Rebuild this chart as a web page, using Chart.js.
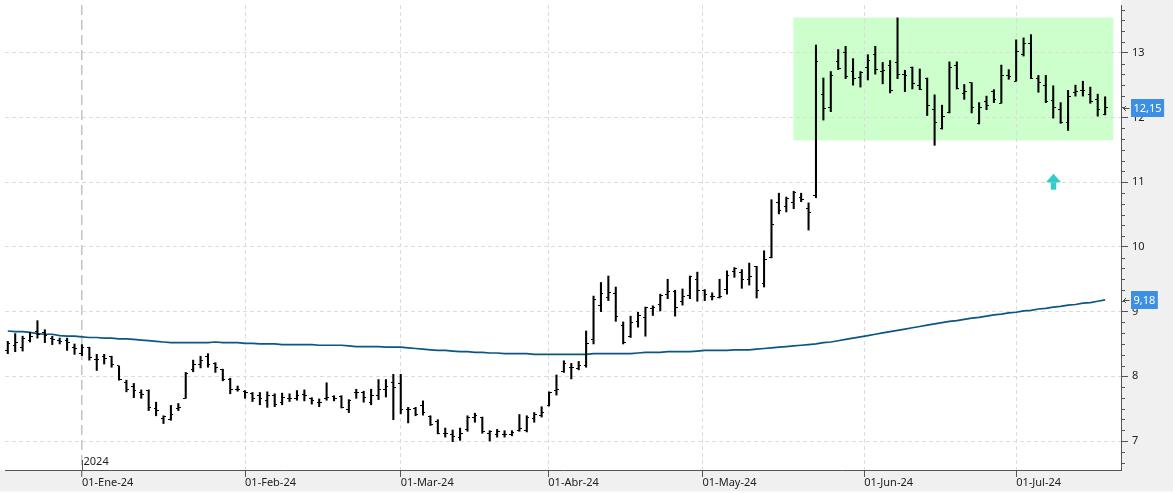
<!DOCTYPE html>
<html><head><meta charset="utf-8">
<script src="https://cdn.jsdelivr.net/npm/chart.js@4/dist/chart.umd.min.js"></script>
<style>html,body{margin:0;padding:0;background:#fff;overflow:hidden}canvas{display:block}</style>
</head><body>
<canvas id="c" width="1173" height="493"></canvas>
<script>
// ---- data (daily OHLC, trading-day index 0..148, 14-Dic-23 .. 17-Jul-24) ----
const opens = [8.40,8.48,8.45,8.55,8.70,8.68,8.58,8.55,8.55,8.45,
8.35,8.45,8.26,8.30,8.30,8.16,7.90,7.85,7.75,7.78,
7.50,7.35,7.33,7.50,7.66,8.10,8.18,8.30,8.20,8.10,
7.95,7.80,7.77,7.74,7.70,7.62,7.70,7.60,7.66,7.66,
7.72,7.65,7.60,7.66,7.69,7.69,7.48,7.75,7.75,7.60,
7.70,7.80,7.90,7.89,7.48,7.50,7.55,7.38,7.30,7.12,
7.10,7.05,7.18,7.37,7.36,7.12,7.10,7.10,7.10,7.17,
7.16,7.35,7.40,7.55,7.78,8.08,8.14,8.12,8.16,8.57,
9.09,9.22,9.28,8.79,8.61,8.85,8.91,9.05,9.11,9.26,
9.31,9.16,9.25,9.49,9.32,9.24,9.22,9.34,9.62,9.61,
9.49,9.69,9.44,9.84,10.68,10.62,10.68,10.76,10.60,10.80,
12.35,12.16,12.86,13.00,12.71,12.62,12.78,12.97,12.71,12.81,
12.85,12.67,12.77,12.49,12.60,12.13,11.83,12.07,12.80,12.37,
12.54,11.90,12.25,12.40,12.22,12.65,12.56,12.98,13.15,12.60,
12.49,12.27,12.13,11.92,12.39,12.41,12.36,12.28,12.04];
const highs = [8.54,8.66,8.62,8.68,8.86,8.72,8.62,8.59,8.59,8.50,
8.49,8.45,8.34,8.34,8.31,8.16,7.94,7.89,7.79,7.79,
7.60,7.39,7.55,7.58,8.06,8.25,8.31,8.35,8.21,8.11,
7.97,7.85,7.78,7.75,7.75,7.76,7.73,7.74,7.73,7.78,
7.79,7.67,7.65,7.90,7.70,7.70,7.64,7.80,7.77,7.80,
7.95,7.95,8.03,8.03,7.52,7.52,7.62,7.39,7.33,7.20,
7.17,7.20,7.39,7.43,7.37,7.16,7.18,7.16,7.16,7.41,
7.39,7.44,7.53,7.76,8.02,8.24,8.20,8.23,8.70,9.24,
9.45,9.55,9.38,8.84,8.93,8.99,9.07,9.09,9.27,9.50,
9.33,9.35,9.55,9.61,9.34,9.29,9.50,9.63,9.68,9.65,
9.75,9.70,9.94,10.73,10.83,10.77,10.86,10.83,10.68,13.12,
12.61,12.71,13.05,13.10,12.91,12.71,12.97,13.10,12.85,12.88,
13.54,12.73,12.78,12.75,12.61,12.35,12.19,12.86,12.86,12.51,
12.54,12.23,12.33,12.43,12.81,12.74,13.20,13.23,13.28,12.65,
12.65,12.49,12.23,12.42,12.50,12.56,12.47,12.36,12.32];
const lows = [8.35,8.38,8.39,8.53,8.59,8.52,8.49,8.50,8.40,8.34,
8.32,8.25,8.09,8.19,8.14,7.94,7.76,7.67,7.66,7.47,
7.39,7.27,7.32,7.47,7.66,8.07,8.13,8.14,8.06,7.93,
7.73,7.77,7.66,7.61,7.56,7.52,7.53,7.56,7.61,7.63,
7.62,7.57,7.53,7.63,7.62,7.51,7.44,7.66,7.60,7.56,
7.64,7.68,7.33,7.42,7.28,7.39,7.40,7.24,7.11,7.06,
6.99,7.01,7.15,7.29,7.12,7.00,7.06,7.06,7.08,7.15,
7.14,7.29,7.37,7.54,7.71,8.06,7.96,8.10,8.14,8.50,
9.00,9.17,8.85,8.50,8.60,8.76,8.62,8.94,9.01,9.20,
8.93,9.10,9.20,9.16,9.17,9.18,9.21,9.27,9.53,9.36,
9.41,9.21,9.38,9.83,10.51,10.54,10.59,10.70,10.26,10.76,
11.96,12.09,12.74,12.60,12.50,12.47,12.58,12.67,12.52,12.38,
12.60,12.40,12.44,12.43,12.03,11.57,11.82,12.07,12.44,12.28,
12.07,11.90,12.12,12.23,12.22,12.59,12.56,12.95,12.60,12.39,
12.23,11.99,11.91,11.80,12.33,12.33,12.22,12.02,12.04];
const closes = [8.50,8.52,8.58,8.62,8.65,8.63,8.57,8.54,8.53,8.43,
8.44,8.29,8.26,8.28,8.18,7.95,7.79,7.78,7.72,7.52,
7.47,7.38,7.41,7.52,8.04,8.18,8.24,8.18,8.13,7.95,
7.79,7.79,7.75,7.66,7.65,7.70,7.56,7.67,7.65,7.71,
7.70,7.63,7.60,7.68,7.66,7.52,7.62,7.75,7.67,7.70,
7.79,7.85,7.82,7.49,7.49,7.41,7.44,7.26,7.12,7.12,
7.07,7.11,7.36,7.39,7.14,7.14,7.14,7.10,7.13,7.20,
7.36,7.41,7.44,7.75,7.79,8.20,8.13,8.17,8.50,9.18,
9.28,9.29,8.92,8.53,8.83,8.94,9.06,9.06,9.25,9.31,
9.06,9.24,9.54,9.32,9.26,9.23,9.24,9.56,9.66,9.49,
9.55,9.32,9.80,10.34,10.56,10.75,10.84,10.74,10.53,12.86,
12.14,12.65,12.75,12.63,12.60,12.69,12.88,12.74,12.72,12.42,
12.66,12.65,12.53,12.44,12.19,11.93,12.02,12.78,12.45,12.40,
12.16,12.16,12.19,12.28,12.65,12.64,13.02,13.14,12.60,12.54,
12.25,12.15,11.92,12.33,12.40,12.42,12.25,12.12,12.15];
const ma = [8.70,8.69,8.69,8.68,8.66,8.65,8.65,8.63,8.62,8.62,
8.61,8.60,8.60,8.59,8.59,8.58,8.58,8.57,8.56,8.55,
8.54,8.53,8.52,8.52,8.52,8.52,8.52,8.52,8.53,8.52,
8.52,8.52,8.51,8.51,8.50,8.50,8.50,8.49,8.49,8.49,
8.49,8.49,8.48,8.48,8.48,8.48,8.47,8.46,8.46,8.46,
8.46,8.45,8.45,8.45,8.44,8.43,8.42,8.41,8.40,8.40,
8.39,8.38,8.38,8.37,8.37,8.36,8.36,8.35,8.35,8.35,
8.35,8.34,8.34,8.34,8.34,8.34,8.34,8.34,8.34,8.35,
8.35,8.35,8.35,8.35,8.35,8.36,8.37,8.37,8.37,8.38,
8.38,8.38,8.38,8.39,8.40,8.40,8.40,8.40,8.41,8.41,
8.41,8.42,8.43,8.44,8.45,8.46,8.47,8.48,8.49,8.50,
8.52,8.53,8.55,8.57,8.59,8.61,8.63,8.65,8.67,8.69,
8.71,8.73,8.75,8.77,8.79,8.81,8.83,8.85,8.86,8.88,
8.90,8.91,8.93,8.95,8.96,8.98,8.99,9.01,9.02,9.04,
9.05,9.07,9.08,9.10,9.11,9.13,9.14,9.16,9.18];
const monthLabels = ['01-Ene-24','01-Feb-24','01-Mar-24','01-Abr-24','01-May-24','01-Jun-24','01-Jul-24'];
const monthIdx = [10, 32, 53, 72.9, 93.7, 115.5, 136];
const yTicks = [7, 8, 9, 10, 11, 12, 13];
const yearLabel = '2024';
const yearIdx = 10;
const zone = {x0: 105.96, x1: 149.1, y0: 11.648, y1: 13.544};
const signal = {x: 141.04, y: 11.0};

// ---- rendering ----
const FONT = '"Noto Sans", "DejaVu Sans", sans-serif';
Chart.defaults.font.family = FONT;
const N = opens.length;
const ids = Array.from({length: N}, (_, i) => i);

function tickImg(left) {
  const c = document.createElement('canvas');
  c.width = 5; c.height = 1;
  const g = c.getContext('2d');
  g.fillStyle = '#000';
  g.fillRect(left ? 0 : 3, 0, 2, 1);
  return c;
}
const openImg = tickImg(true), closeImg = tickImg(false);

const bgPlugin = {
  id: 'bg',
  beforeDraw(chart) {
    const {ctx, chartArea: a, width: W, height: H} = chart;
    const xs = chart.scales.x, ys = chart.scales.y;
    ctx.save();
    ctx.fillStyle = '#ffffff'; ctx.fillRect(0, 0, W, H);
    ctx.fillStyle = '#f0f0f0';
    ctx.fillRect(a.right, 0, W - a.right, H);
    ctx.fillRect(0, a.bottom, W, H - a.bottom);
    ctx.fillStyle = '#fbfbfb';
    ctx.fillRect(0, H - 2, W, 2);
    // highlighted zone
    const zx0 = xs.getPixelForValue(zone.x0), zx1 = xs.getPixelForValue(zone.x1);
    const zy0 = ys.getPixelForValue(zone.y1), zy1 = ys.getPixelForValue(zone.y0);
    ctx.fillStyle = '#ccffcc';
    ctx.fillRect(zx0, zy0, zx1 - zx0, zy1 - zy0);
    ctx.restore();
  },
  afterDraw(chart) {
    const {ctx, chartArea: a} = chart;
    const xs = chart.scales.x, ys = chart.scales.y;
    ctx.save();
    // minor ticks on the price axis
    ctx.strokeStyle = '#555'; ctx.lineWidth = 1;
    for (let k = Math.ceil(ys.min * 6); k <= Math.floor(ys.max * 6); k++) {
      if (k % 6 === 0) continue;
      const y = Math.round(ys.getPixelForValue(k / 6)) + 0.5;
      ctx.beginPath(); ctx.moveTo(a.right, y); ctx.lineTo(a.right + 4, y); ctx.stroke();
    }
    // year marker
    const yx = Math.round(xs.getPixelForValue(yearIdx)) + 0.5;
    ctx.strokeStyle = '#555';
    ctx.beginPath(); ctx.moveTo(yx, a.bottom - 10); ctx.lineTo(yx, a.bottom); ctx.stroke();
    ctx.fillStyle = '#222'; ctx.font = '11px ' + FONT;
    ctx.textAlign = 'left'; ctx.textBaseline = 'middle';
    ctx.fillText(yearLabel, yx + 1, a.bottom - 8);
    // signal arrow
    const sx = xs.getPixelForValue(signal.x), sy = ys.getPixelForValue(signal.y);
    ctx.fillStyle = '#33cccc';
    ctx.beginPath();
    ctx.moveTo(sx, sy - 8.5); ctx.lineTo(sx + 7.5, sy); ctx.lineTo(sx - 7.5, sy); ctx.closePath(); ctx.fill();
    ctx.fillRect(sx - 2.7, sy, 5.4, 7.5);
    // value tags
    function tag(val) {
      const y = ys.getPixelForValue(val);
      const txt = val.toFixed(2).replace('.', ',');
      ctx.font = '11px ' + FONT;
      const w = ctx.measureText(txt).width + 5;
      ctx.fillStyle = '#3d8fe3';
      ctx.fillRect(a.right + 10, Math.round(y) - 9, w, 18);
      ctx.fillStyle = '#ffffff'; ctx.textAlign = 'left'; ctx.textBaseline = 'middle';
      ctx.fillText(txt, a.right + 12.5, Math.round(y) + 0.5);
      const ay = Math.round(y) + 0.5;
      ctx.strokeStyle = '#444'; ctx.lineWidth = 1;
      ctx.beginPath();
      ctx.moveTo(a.right + 2.5, ay); ctx.lineTo(a.right + 8.5, ay);
      ctx.moveTo(a.right + 5, ay - 2.5); ctx.lineTo(a.right + 2.5, ay); ctx.lineTo(a.right + 5, ay + 2.5);
      ctx.stroke();
    }
    tag(closes[N - 1]);
    tag(ma[N - 1]);
    ctx.restore();
  }
};

new Chart(document.getElementById('c'), {
  type: 'bar',
  data: {
    datasets: [
      {type: 'bar', data: ids.map(i => ({x: i, y: [lows[i], highs[i]]})),
       backgroundColor: '#000', borderWidth: 0, barThickness: 1.4, grouped: false, order: 1},
      {type: 'scatter', data: ids.map(i => ({x: i, y: opens[i]})),
       pointStyle: openImg, pointRadius: 3, order: 0},
      {type: 'scatter', data: ids.map(i => ({x: i, y: closes[i]})),
       pointStyle: closeImg, pointRadius: 3, order: 0},
      {type: 'line', data: ids.map(i => ({x: i, y: ma[i]})),
       borderColor: '#0a5785', borderWidth: 1.7, pointRadius: 0, tension: 0, fill: false, order: 2}
    ]
  },
  options: {
    responsive: false, animation: false, devicePixelRatio: 1,
    layout: {padding: 0},
    plugins: {legend: {display: false}, tooltip: {enabled: false}},
    scales: {
      x: {
        type: 'linear', min: -0.376, max: 150.14, offset: false,
        afterBuildTicks: s => { s.ticks = monthIdx.map(v => ({value: v})); },
        afterFit: s => { s.height = 23; s.paddingLeft = 0; s.paddingRight = 0; },
        ticks: {autoSkip: false, maxRotation: 0, minRotation: 0, align: 'start', padding: 0,
                color: '#222', font: {size: 11, lineHeight: 1},
                callback: (v, i) => monthLabels[i]},
        grid: {offset: false, color: c => c.index === 0 ? '#c4c4c4' : '#dcdcdc',
               lineWidth: c => c.index === 0 ? 1.5 : 1,
               tickLength: 7, tickColor: '#555', tickWidth: 1},
        border: {display: true, color: '#555', width: 1,
                 dash: c => c.type === 'tick' ? (c.index === 0 ? [10, 5] : [4, 3]) : []}
      },
      y: {
        type: 'linear', position: 'right', min: 6.552, max: 13.7385,
        afterBuildTicks: s => { s.ticks = yTicks.map(v => ({value: v})); },
        afterFit: s => { s.width = 52; s.paddingTop = 0; s.paddingBottom = 0; },
        ticks: {padding: 4, color: '#222', font: {size: 11}, callback: v => String(v)},
        grid: {color: '#dcdcdc', lineWidth: 1, tickLength: 7, tickColor: '#555', tickWidth: 1},
        border: {display: true, color: '#555', width: 1,
                 dash: c => c.type === 'tick' ? [4, 3] : []}
      }
    }
  },
  plugins: [bgPlugin]
});
</script>
</body></html>
